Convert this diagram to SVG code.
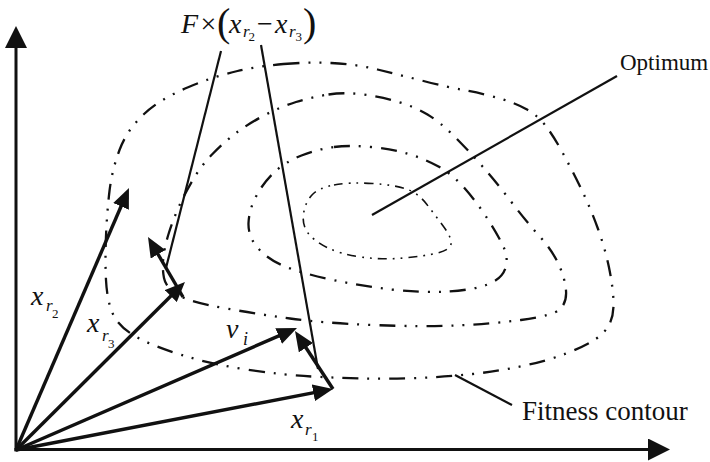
<svg xmlns="http://www.w3.org/2000/svg" width="710" height="462" viewBox="0 0 710 462">
<style>
.t{font-family:"Liberation Serif","Times New Roman",serif;fill:#111}
.it{font-style:italic}
.ax{stroke:#111;stroke-width:3;fill:none}
.vec{stroke:#111;stroke-width:3.4;fill:none}
.lead{stroke:#111;stroke-width:2.2;fill:none}
.ct{stroke:#111;stroke-width:2.3;fill:none;stroke-dasharray:16 9 2 9 2 9}
.ct4{stroke:#111;stroke-width:1.6;fill:none;stroke-dasharray:9 6 1.8 6 1.8 6}
</style>
<defs>
<marker id="ah" markerUnits="userSpaceOnUse" markerWidth="22" markerHeight="22" refX="2" refY="11" orient="auto"><path d="M0,0 L22,11 L0,22 z" fill="#111"/></marker>
<marker id="vh" markerUnits="userSpaceOnUse" markerWidth="20" markerHeight="17" refX="14" refY="8.5" orient="auto"><path d="M0,0 L20,8.5 L0,17 z" fill="#111"/></marker>
</defs>
<rect width="710" height="462" fill="#fff"/>

<g id="contours">
<path id="contour1" class="ct" d="M283.5,64 Q307,62 331,63 Q355,64 377.5,69.5 Q400,75 423.5,81 Q447,87 466,90.5 Q485,94 500,98.5 Q515,103 526,109 Q537,115 545,125 Q553,135 562.5,152.5 Q572,170 581,188.5 Q590,207 597.5,227.5 Q605,248 609,267.5 Q613,287 613.5,301 Q614,315 609.5,324 Q605,333 595,339.5 Q585,346 567.5,353 Q550,360 525,365.5 Q500,371 472.5,374 Q445,377 417.5,378 Q390,379 365,378.5 Q340,378 311.5,376.5 Q283,375 246.5,369.5 Q210,364 180,354.5 Q150,345 134,335.5 Q118,326 112.5,313 Q107,300 106,280 Q105,260 106,236 Q107,212 109.5,191 Q112,170 119.5,150 Q127,130 143.5,114.5 Q160,99 187.5,87.5 Q215,76 237.5,71 Q260,66 283.5,64 Z"/>
<path id="contour2" class="ct" d="M328.5,94.5 Q345,92 363.5,94.5 Q382,97 398.5,102 Q415,107 427.5,114.5 Q440,122 454,136 Q468,150 482.5,166.5 Q497,183 511,201.5 Q525,220 538.5,235 Q552,250 558.5,264 Q565,278 566,290.5 Q567,303 559.5,309.5 Q552,316 521,320 Q490,324 456.5,325.5 Q423,327 373,325 Q323,323 290,318.5 Q257,314 223.5,308 Q190,302 178,295 Q166,288 164,278 Q162,268 163.5,256.5 Q165,245 169,232.5 Q173,220 178.5,207.5 Q184,195 192.5,180.5 Q201,166 212.5,154 Q224,142 236,133 Q248,124 264,115.5 Q280,107 296,102 Q312,97 328.5,94.5 Z"/>
<path id="contour3" class="ct" d="M334,147 Q350,145 371,147 Q392,149 408.5,154 Q425,159 438.5,166.5 Q452,174 463.5,187 Q475,200 485,215 Q495,230 502,243.5 Q509,257 505.5,268 Q502,279 487.5,284.5 Q473,290 448,291.5 Q423,293 391.5,289.5 Q360,286 328.5,279 Q297,272 281.5,265 Q266,258 257,247 Q248,236 248.5,223 Q249,210 256,196.5 Q263,183 274,172.5 Q285,162 301.5,155.5 Q318,149 334,147 Z"/>
<path id="contour4" class="ct4" d="M334,185 Q350,182 372.5,183.5 Q395,185 406.5,189 Q418,193 426.5,204 Q435,215 443.5,226.5 Q452,238 451,244 Q450,250 437.5,253 Q425,256 403.5,258 Q382,260 361,257 Q340,254 327,247.5 Q314,241 308,233 Q302,225 303.5,214 Q305,203 311.5,195.5 Q318,188 334,185 Z"/>
</g>

<g id="axes">
<line class="ax" x1="16" y1="451.5" x2="16" y2="46" marker-end="url(#ah)"/>
<line class="ax" x1="14.5" y1="449.5" x2="650" y2="449.5" marker-end="url(#ah)"/>
</g>

<g id="connectors">
<line id="vec-xr2" class="vec" x1="16" y1="450" x2="126.6" y2="193.5" marker-end="url(#vh)"/>
<line id="vec-xr3" class="vec" x1="16" y1="450" x2="180.7" y2="286.2" marker-end="url(#vh)"/>
<line id="vec-vi" class="vec" x1="16" y1="450" x2="291.5" y2="330.4" marker-end="url(#vh)"/>
<line id="vec-xr1" class="vec" x1="16" y1="450" x2="327.1" y2="390.1" marker-end="url(#vh)"/>
<line id="vec-diff" class="vec" x1="183" y1="297" x2="151" y2="242.2" marker-end="url(#vh)"/>
<line id="vec-fdiff" class="vec" x1="333" y1="389" x2="298.3" y2="336" marker-end="url(#vh)"/>
<line id="lead-f1" class="lead" x1="221" y1="51" x2="166" y2="268"/>
<line id="lead-f2" class="lead" x1="261" y1="45" x2="318" y2="369"/>
<line id="lead-opt" class="lead" x1="372" y1="215" x2="617" y2="76"/>
<line id="lead-fit" class="lead" x1="455" y1="375" x2="512" y2="405"/>
</g>

<g id="label-formula">
<text class="t" font-size="28"><tspan class="it" x="181" y="33">F</tspan><tspan x="200.5" y="33">×</tspan><tspan x="217" y="36" font-size="40">(</tspan><tspan class="it" x="229" y="33">x</tspan><tspan class="it" x="243" y="37" font-size="17">r</tspan><tspan x="248.5" y="41" font-size="13">2</tspan><tspan x="257" y="33">−</tspan><tspan class="it" x="275" y="33">x</tspan><tspan class="it" x="289" y="37" font-size="17">r</tspan><tspan x="295.5" y="41" font-size="13">3</tspan><tspan x="303" y="36" font-size="40">)</tspan></text>
</g>
<g id="label-xr2">
<text class="t" font-size="28"><tspan class="it" x="31" y="305">x</tspan><tspan class="it" x="46" y="311" font-size="17">r</tspan><tspan x="52" y="318" font-size="13">2</tspan></text>
</g>
<g id="label-xr3">
<text class="t" font-size="28"><tspan class="it" x="87" y="332">x</tspan><tspan class="it" x="102" y="341" font-size="17">r</tspan><tspan x="108" y="348" font-size="13">3</tspan></text>
</g>
<g id="label-vi">
<text class="t" font-size="28"><tspan class="it" x="226" y="338">v</tspan><tspan class="it" x="243" y="345" font-size="18">i</tspan></text>
</g>
<g id="label-xr1">
<text class="t" font-size="28"><tspan class="it" x="291" y="428">x</tspan><tspan class="it" x="305" y="435" font-size="17">r</tspan><tspan x="312" y="441" font-size="13">1</tspan></text>
</g>
<g id="label-optimum">
<text class="t" x="620" y="70" font-size="23">Optimum</text>
</g>
<g id="label-fitness">
<text class="t" x="522" y="420" font-size="27">Fitness contour</text>
</g>
</svg>
